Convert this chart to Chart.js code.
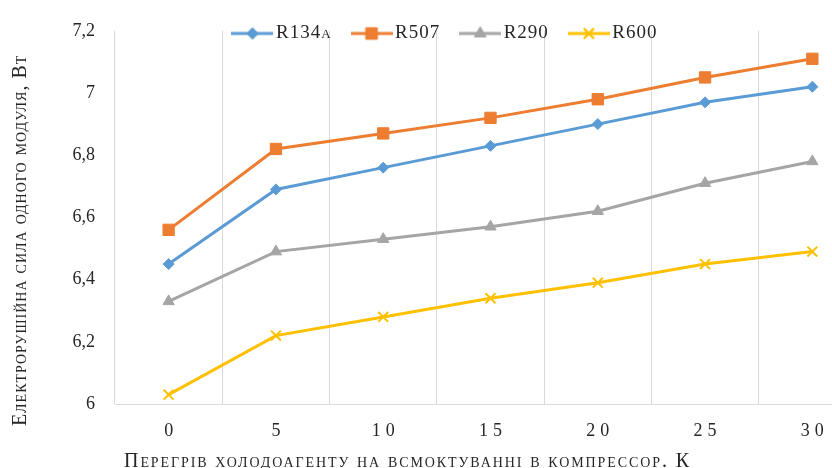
<!DOCTYPE html>
<html>
<head>
<meta charset="utf-8">
<script src="https://cdn.jsdelivr.net/npm/chart.js@4/dist/chart.umd.min.js"></script>
<style>
  html, body { margin: 0; padding: 0; background: #ffffff; overflow: hidden; }
  #wrap { position: relative; width: 895px; height: 468px; }
</style>
</head>
<body>
<div id="wrap"><canvas id="emfChart" width="895" height="468"></canvas></div>
<script>
// Superheat at compressor suction, K
const superheat = ['0', '5', '10', '15', '20', '25', '30'];

// EMF of one thermoelectric module, W, per refrigerant
const r134a = [6.45, 6.69, 6.76, 6.83, 6.90, 6.97, 7.02];
const r507  = [6.56, 6.82, 6.87, 6.92, 6.98, 7.05, 7.11];
const r290  = [6.33, 6.49, 6.53, 6.57, 6.62, 6.71, 6.78];
const r600  = [6.03, 6.22, 6.28, 6.34, 6.39, 6.45, 6.49];

const seriesNames = ['R134a', 'R507', 'R290', 'R600'];
const yTicks = [6, 6.2, 6.4, 6.6, 6.8, 7, 7.2];

const yTitle = 'Електрорушійна сила одного модуля, Вт';
const xTitle = 'Перегрів холодоагенту на всмоктуванні в компрессор. К';

const SERIF = "'Liberation Serif', 'Times New Roman', serif";
const TEXT = '#262626';
const GRID = '#d9d9d9';

const styles = [
  { color: '#5B9BD5', point: 'rectRot',  radius: 5.5, pbw: 1 },
  { color: '#ED7D31', point: 'rect',     radius: 8,   pbw: 1 },
  { color: '#A5A5A5', point: 'triangle', radius: 6.5, pbw: 1 },
  { color: '#FFC000', point: 'crossRot', radius: 7,   pbw: 2 }
];
const values = [r134a, r507, r290, r600];

// Legend keys: short line segment with the series marker in the middle
function makeKey(s) {
  const c = document.createElement('canvas');
  c.width = 42; c.height = 16;
  const g = c.getContext('2d');
  g.strokeStyle = s.color; g.lineWidth = 3;
  g.beginPath(); g.moveTo(0, 8); g.lineTo(42, 8); g.stroke();
  g.fillStyle = s.color; g.strokeStyle = s.color; g.lineWidth = s.pbw;
  Chart.helpers.drawPoint(g, { pointStyle: s.point, radius: s.radius, borderWidth: s.pbw, rotation: 0 }, 21, 8);
  g.fill();
  g.stroke();
  return c;
}
const keys = styles.map(makeKey);

function shiftTitle(scale, dx, dy, spacing) {
  if (scale.$titleShifted) return;
  const orig = scale.drawTitle;
  scale.drawTitle = function (...args) {
    const c = this.ctx; c.save(); c.translate(dx, dy); c.letterSpacing = spacing + 'px';
    orig.apply(this, args); c.restore();
  };
  scale.$titleShifted = true;
}
function spaceLabels(scale, px) {
  if (scale.$spaced) return;
  const orig = scale.drawLabels;
  scale.drawLabels = function (...args) {
    const c = this.ctx; c.save(); c.letterSpacing = px + 'px'; c.translate(px / 2, 0);
    orig.apply(this, args); c.restore();
  };
  scale.$spaced = true;
}

const LEGEND_PAD = 26;
const LEGEND_SPACING = '1px';
const LEGEND_DX = 15;

// Legend sits over the top of the plot area instead of taking layout space
const legendOverlay = {
  id: 'legendOverlay',
  beforeLayout(chart) {
    const lg = chart.legend;
    if (lg && !lg.$flat) {
      const fit = lg.fit;
      lg.fit = function () {
        const c = this.ctx; c.save(); c.letterSpacing = LEGEND_SPACING;
        fit.call(this);
        c.restore();
        this.height = 0;
      };
      const draw = lg.draw;
      lg.draw = function (...args) {
        const c = this.ctx; c.save(); c.letterSpacing = LEGEND_SPACING; draw.apply(this, args); c.restore();
      };
      lg.$flat = true;
    }
  },
  afterLayout(chart) {
    const lg = chart.legend;
    if (lg) {
      lg.top = 24 - LEGEND_PAD; lg.height = 70; lg.bottom = lg.top + 70;
      lg.left += LEGEND_DX; lg.right += LEGEND_DX;
    }
  }
};

const datasets = values.map((v, i) => ({
  label: seriesNames[i],
  data: v,
  borderColor: styles[i].color,
  backgroundColor: styles[i].color,
  pointBackgroundColor: styles[i].color,
  pointBorderColor: styles[i].color,
  pointStyle: styles[i].point,
  pointRadius: styles[i].radius,
  pointBorderWidth: styles[i].pbw,
  borderWidth: 3,
  tension: 0,
  fill: false
}));

new Chart(document.getElementById('emfChart'), {
  type: 'line',
  data: { labels: superheat, datasets },
  plugins: [legendOverlay],
  options: {
    responsive: false,
    animation: false,
    events: [],
    layout: { padding: { left: 0, right: 29, top: 23, bottom: 0 } },
    plugins: {
      tooltip: { enabled: false },
      legend: {
        display: true,
        position: 'top',
        align: 'center',
        labels: {
          usePointStyle: true,
          pointStyleWidth: 28,
          padding: LEGEND_PAD,
          color: TEXT,
          font: { family: SERIF, size: 19, weight: 'small-caps' },
          generateLabels(chart) {
            const items = Chart.defaults.plugins.legend.labels.generateLabels(chart);
            items.forEach((it, i) => { it.pointStyle = keys[i]; });
            return items;
          }
        }
      }
    },
    scales: {
      x: {
        type: 'category',
        offset: true,
        grid: { display: true, offset: true, color: GRID, lineWidth: 1, drawTicks: false },
        border: { display: true, color: GRID, width: 1 },
        ticks: { color: TEXT, font: { family: SERIF, size: 18 }, padding: 16, maxRotation: 0, autoSkip: false },
        title: {
          display: true, text: xTitle, color: TEXT,
          font: { family: SERIF, size: 20, weight: 'small-caps', lineHeight: 1 },
          padding: { top: 0, bottom: 0 }
        },
        afterFit(scale) { scale.height = 64; shiftTitle(scale, -83, 4, 1.9); spaceLabels(scale, 5); }
      },
      y: {
        min: 6,
        max: 7.2,
        grid: { display: false, drawTicks: false },
        border: { display: false },
        afterBuildTicks(scale) { scale.ticks = yTicks.map(v => ({ value: v })); },
        ticks: {
          color: TEXT,
          font: { family: SERIF, size: 18 },
          padding: 20,
          callback: (v) => String(Number(v.toFixed(1))).replace('.', ',')
        },
        title: {
          display: true, text: yTitle, color: TEXT,
          font: { family: SERIF, size: 20, weight: 'small-caps' },
          padding: { top: 9, bottom: 0 }
        },
        afterFit(scale) { scale.width = 115; shiftTitle(scale, 0, 23, 1); }
      }
    }
  }
});
</script>
</body>
</html>
